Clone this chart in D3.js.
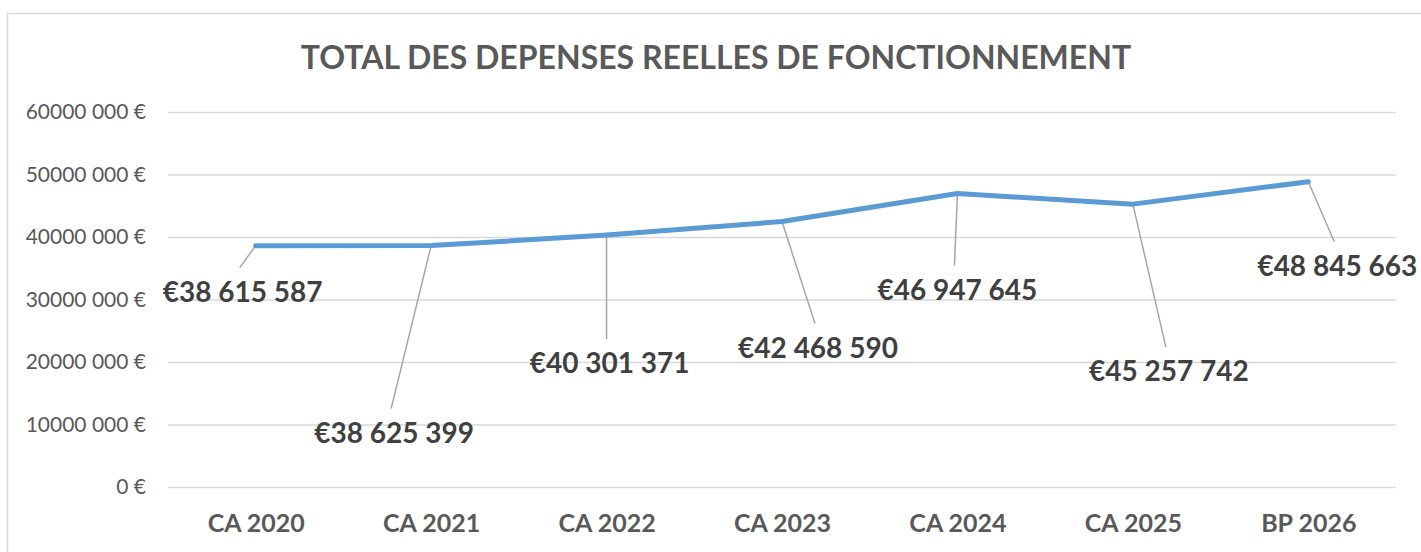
<!DOCTYPE html>
<html>
<head>
<meta charset="utf-8">
<script src="https://cdn.jsdelivr.net/npm/d3@7"></script>
<style>
  html, body { margin: 0; padding: 0; background: #fff; }
  svg { display: block; font-family: Lato, "Open Sans", sans-serif; }
</style>
</head>
<body>
<div id="container"></div>
<script>
const width = 1421;
const height = 552;

const title = "TOTAL DES DEPENSES REELLES DE FONCTIONNEMENT";
const categories = ["CA 2020", "CA 2021", "CA 2022", "CA 2023", "CA 2024", "CA 2025", "BP 2026"];
const values = [38615587, 38625399, 40301371, 42468590, 46947645, 45257742, 48845663];
const yTicks = [0, 10000000, 20000000, 30000000, 40000000, 50000000, 60000000];

// where each data label was dragged to, relative to its point (centre x, baseline y)
const labelOffsets = [
  [-13, 56], [-37, 197], [3, 138], [36, 136], [0, 106], [36, 177], [29, 94]
];

const plot = { left: 168, right: 1396, top: 112, bottom: 487 };

const svg = d3.select("#container")
  .append("svg")
  .attr("width", width)
  .attr("height", height);

// chart frame (runs off the right and bottom of the picture)
svg.append("rect")
  .attr("x", 7.5)
  .attr("y", 13.5)
  .attr("width", width + 20)
  .attr("height", height + 20)
  .attr("fill", "none")
  .attr("stroke", "#d9d9d9")
  .attr("stroke-width", 1.5);

const x = d3.scalePoint()
  .domain(categories)
  .range([plot.left, plot.right])
  .padding(0.5);

const y = d3.scaleLinear()
  .domain([0, 60000000])
  .range([plot.bottom, plot.top]);

const euro = (v) =>
  v === 0 ? "0 €" : `${Math.floor(v / 1000)} ${String(v % 1000).padStart(3, "0")} €`;

const yAxis = svg.append("g")
  .attr("transform", `translate(${plot.left},0)`)
  .call(
    d3.axisLeft(y)
      .tickValues(yTicks)
      .tickSize(-(plot.right - plot.left))
      .tickPadding(22)
      .tickFormat(euro)
  );
yAxis.select(".domain").remove();
yAxis.selectAll(".tick line")
  .attr("stroke", "#d9d9d9")
  .attr("stroke-width", 1.5);
yAxis.selectAll(".tick text")
  .attr("fill", "#595959")
  .attr("font-size", 21)
  .attr("font-family", "Lato, sans-serif");

const xAxis = svg.append("g")
  .attr("transform", `translate(0,${plot.bottom})`)
  .call(d3.axisBottom(x).tickSize(0).tickPadding(27));
xAxis.select(".domain").remove();
xAxis.selectAll(".tick text")
  .attr("fill", "#595959")
  .attr("font-size", 25)
  .attr("font-weight", 700)
  .attr("font-family", "Lato, sans-serif");

svg.append("text")
  .attr("x", 716)
  .attr("y", 69)
  .attr("text-anchor", "middle")
  .attr("fill", "#595959")
  .attr("font-size", 32)
  .attr("font-weight", 700)
  .text(title);

const points = categories.map((c, i) => ({
  cat: c,
  value: values[i],
  px: x(c),
  py: y(values[i]),
  lx: x(c) + labelOffsets[i][0],
  ly: y(values[i]) + labelOffsets[i][1]
}));

// leader lines
svg.append("g")
  .selectAll("line")
  .data(points)
  .join("line")
  .attr("x1", (d) => d.px)
  .attr("y1", (d) => d.py)
  .attr("x2", (d) => d.lx - 3)
  .attr("y2", (d) => d.ly - 34)
  .attr("stroke", "#a6a6a6")
  .attr("stroke-width", 1.5);

svg.append("path")
  .datum(points)
  .attr("fill", "none")
  .attr("stroke", "#5b9bd5")
  .attr("stroke-width", 5)
  .attr("stroke-linejoin", "round")
  .attr("stroke-linecap", "round")
  .attr("d", d3.line().x((d) => d.px).y((d) => d.py));

const fmtLabel = (v) => "€" + d3.format(",")(v).replace(/,/g, " ");

svg.append("g")
  .selectAll("text")
  .data(points)
  .join("text")
  .attr("x", (d) => d.lx)
  .attr("y", (d) => d.ly)
  .attr("text-anchor", "middle")
  .attr("fill", "#404040")
  .attr("font-size", 28)
  .attr("font-weight", 700)
  .text((d) => fmtLabel(d.value));
</script>
</body>
</html>
